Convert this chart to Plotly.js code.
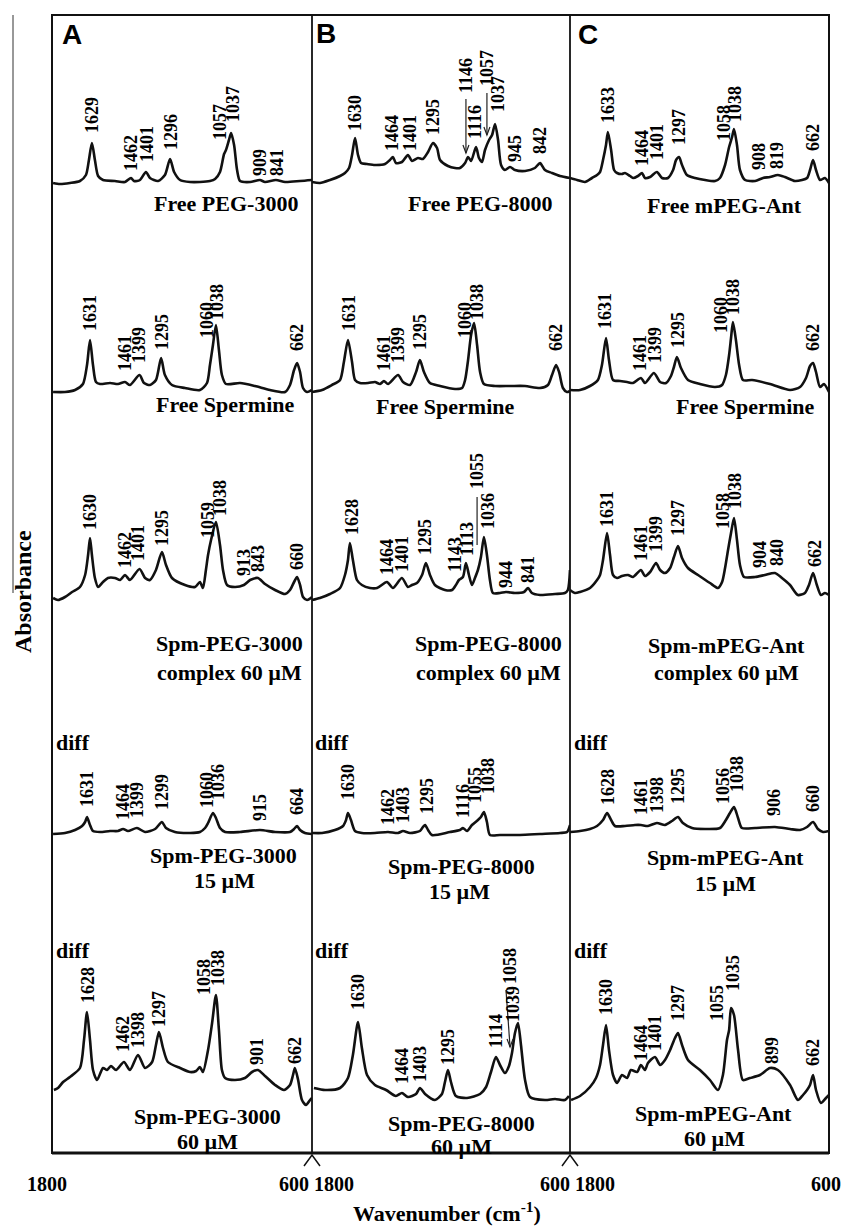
<!DOCTYPE html>
<html><head><meta charset="utf-8">
<script src="https://cdn.plot.ly/plotly-3.0.1.min.js"></script>
<style>html,body{margin:0;padding:0;background:#fff}#chart{width:841px;height:1232px}</style>
</head><body><div id="chart"></div>
<script>
// ---------- DATA: wavenumber (cm-1) and absorbance (a.u.) ----------
// Panel A
const A1_wn=[1804,1772,1725,1678,1650,1636,1622,1608,1593,1570,1514,1467,1439,1425,1397,1369,1350,1312,1280,1256,1237,1209,1162,1116,1069,1045,1022,1003,994,980,970,956,942,928,881,835,811,760,717,647,591];
const A1_abs=[0,-1,0,2,8,23,40,23,7,3,2,1,5,2,3,11,5,2,8,24,11,3,1,1,2,4,11,29,33,43,50,38,13,2,1,3,1,3,1,2,3];
const A2_wn=[1804,1748,1701,1664,1645,1631,1617,1603,1584,1537,1500,1467,1444,1399,1378,1350,1322,1298,1280,1247,1186,1116,1083,1069,1055,1041,1027,1013,994,928,858,788,717,694,675,661,647,633,614,591];
const A2_abs=[0,0,2,8,27,52,27,10,8,9,8,10,7,17,9,7,12,34,17,7,4,2,9,27,47,67,42,17,8,9,6,2,0,7,22,29,20,4,0,2];
const A3_wn=[1804,1781,1748,1715,1678,1654,1640,1631,1622,1608,1593,1570,1547,1514,1490,1467,1444,1399,1373,1350,1322,1294,1275,1247,1186,1139,1116,1102,1088,1078,1064,1041,1022,1008,989,952,910,881,844,811,764,717,694,675,661,647,633,614,591];
const A3_abs=[0,-2,1,6,11,23,43,60,43,20,11,16,20,20,18,23,18,29,20,18,28,46,33,20,13,11,16,10,28,43,58,76,53,28,13,11,13,18,20,14,8,4,8,16,21,13,1,-2,1];
const A4_wn=[1804,1748,1701,1668,1654,1645,1631,1617,1584,1537,1500,1476,1453,1411,1373,1326,1294,1275,1233,1162,1116,1092,1078,1055,1041,1022,998,928,835,764,694,675,661,647,624,591];
const A4_abs=[-1,0,3,7,11,16,8,2,1,2,2,4,2,5,1,4,11,5,1,0,1,5,10,20,15,5,1,1,3,1,1,4,7,3,0,-1];
const A5_wn=[1800,1781,1757,1725,1678,1659,1645,1631,1617,1598,1570,1551,1533,1509,1472,1444,1406,1373,1340,1322,1308,1289,1266,1209,1162,1134,1116,1102,1078,1059,1041,1027,1013,998,952,905,872,844,811,764,722,694,680,671,656,638,619,600,591];
const A5_abs=[0,2,8,13,22,50,78,50,20,10,22,20,24,20,28,20,35,22,28,45,58,42,28,22,18,19,23,18,40,67,95,60,20,12,10,12,18,20,14,5,0,5,15,22,10,-10,-15,-10,-8];
// Panel B
const B1_wn=[1800,1763,1716,1669,1646,1627,1613,1599,1585,1571,1543,1506,1459,1436,1422,1408,1380,1352,1333,1305,1282,1258,1235,1216,1202,1165,1132,1109,1085,1071,1057,1034,1020,1006,992,973,959,945,931,917,899,875,852,805,759,735,712,679,642,595];
const B1_abs=[1,0,3,7,10,15,28,45,28,20,19,18,19,23,26,20,21,28,22,25,24,31,40,35,23,17,15,15,20,26,22,36,25,21,33,43,48,59,43,18,13,16,13,12,15,20,13,10,7,5];
const B2_wn=[1800,1753,1707,1669,1651,1632,1613,1599,1576,1538,1506,1482,1464,1445,1398,1375,1342,1314,1296,1277,1249,1202,1132,1099,1085,1071,1057,1043,1029,1015,997,945,875,805,735,698,679,660,646,628,609,595];
const B2_abs=[0,2,7,12,30,52,30,12,9,9,10,8,11,8,17,10,7,20,32,20,9,6,3,4,12,32,57,69,47,20,8,6,6,6,4,7,17,27,20,4,0,1];
const B3_wn=[1800,1763,1716,1669,1646,1632,1623,1609,1590,1567,1529,1496,1450,1422,1380,1352,1333,1310,1286,1268,1249,1226,1179,1146,1128,1114,1095,1081,1067,1053,1039,1025,1011,997,983,969,955,922,894,852,810,791,773,735,665,619,605,595];
const B3_abs=[-2,0,4,10,23,38,55,38,18,13,10,10,16,10,20,11,13,15,23,35,23,13,8,8,13,18,21,35,23,13,20,28,41,61,43,18,5,5,6,5,6,10,5,3,4,5,8,28];
const B4_wn=[1800,1753,1693,1655,1641,1632,1618,1599,1567,1506,1445,1398,1375,1342,1296,1282,1272,1258,1240,1156,1109,1095,1076,1053,1025,1011,997,983,969,922,829,735,642,609,595];
const B4_abs=[0,0,3,7,13,20,13,2,0,0,1,0,2,0,2,6,8,3,-2,1,3,5,2,8,13,16,21,11,-2,-2,-2,-1,0,1,8];
const B5_wn=[1791,1739,1669,1632,1609,1585,1567,1543,1506,1454,1408,1380,1352,1314,1296,1272,1226,1193,1179,1165,1151,1128,1076,1015,987,964,941,922,899,880,866,852,838,824,805,782,712,665,619,600];
const B5_abs=[2,0,2,12,35,68,42,15,5,0,-6,-3,-7,-4,2,-4,-10,-4,8,20,8,-6,-8,-4,3,18,33,25,17,24,37,57,67,45,10,-7,-10,-9,-10,-6];
// Panel C
const C1_wn=[1802,1769,1732,1699,1675,1661,1647,1633,1624,1609,1595,1581,1558,1544,1520,1506,1483,1464,1450,1426,1394,1370,1342,1318,1304,1290,1276,1253,1215,1168,1121,1098,1074,1055,1041,1032,1018,1004,980,933,896,863,826,793,746,713,689,675,661,647,628,605,586];
const C1_abs=[5,3,1,5,8,11,23,38,51,33,13,10,9,10,7,5,7,10,5,6,11,5,5,13,23,26,18,8,5,3,2,5,18,36,46,54,38,13,3,2,5,6,8,6,2,3,5,13,23,13,3,5,0];
const C2_wn=[1802,1755,1708,1671,1652,1633,1619,1600,1567,1534,1506,1469,1450,1408,1379,1351,1328,1314,1300,1281,1248,1192,1121,1088,1070,1055,1046,1037,1023,1008,990,947,863,769,722,694,675,661,647,628,610,586];
const C2_abs=[2,2,6,12,27,54,32,12,11,10,9,14,9,19,10,9,16,25,35,24,12,8,5,7,17,37,54,70,52,27,12,12,8,2,5,14,26,29,20,5,8,0];
const C3_wn=[1802,1779,1755,1708,1675,1661,1647,1628,1614,1600,1581,1558,1530,1506,1469,1450,1426,1398,1379,1356,1332,1314,1295,1276,1248,1201,1145,1107,1088,1074,1060,1046,1032,1018,1004,985,933,887,840,807,769,732,699,680,661,643,624,605,586];
const C3_abs=[8,5,6,10,18,23,38,65,43,23,20,22,23,21,28,22,26,35,28,25,30,41,52,40,30,23,15,10,16,30,48,65,80,58,33,21,21,23,25,20,13,3,5,13,25,13,3,5,3];
const C4_wn=[1802,1755,1708,1675,1647,1628,1609,1591,1544,1497,1469,1436,1394,1356,1323,1295,1272,1229,1168,1098,1070,1051,1032,1013,995,933,840,769,722,689,661,638,614,586];
const C4_abs=[1,2,4,7,13,20,13,7,7,8,8,7,10,8,12,16,10,5,4,5,13,20,26,15,5,5,6,4,3,6,11,4,1,2];
const C5_wn=[1797,1755,1708,1680,1661,1647,1633,1619,1600,1581,1558,1534,1516,1487,1469,1450,1436,1403,1379,1356,1332,1309,1295,1276,1248,1192,1145,1107,1084,1065,1055,1046,1032,1013,990,957,910,863,826,769,732,708,689,675,661,647,624,600,586];
const C5_abs=[-10,-6,3,12,25,45,65,40,15,7,15,12,20,18,25,20,27,33,25,30,40,52,57,45,30,20,10,0,15,50,60,82,75,40,10,12,15,22,20,5,-10,-5,0,5,15,0,-13,-8,-5];

// Peak labels (text)
const A_labels=[['1629','1462','1401','1296','1057','1037','909','841'],['1631','1461','1399','1295','1060','1038','662'],['1630','1462','1401','1295','1059','1038','913','843','660'],['1631','1464','1399','1299','1060','1036','915','664'],['1628','1462','1398','1297','1058','1038','901','662']];
const B_labels=[['1630','1464','1401','1295','1146','1116','1057','1037','945','842'],['1631','1461','1399','1295','1060','1038','662'],['1628','1464','1401','1295','1143','1113','1055','1036','944','841'],['1630','1462','1403','1295','1116','1055','1038'],['1630','1464','1403','1295','1114','1058','1039']];
const C_labels=[['1633','1464','1401','1297','1058','1038','908','819','662'],['1631','1461','1399','1295','1060','1038','662'],['1631','1461','1399','1297','1058','1038','904','840','662'],['1628','1461','1398','1295','1056','1038','906','660'],['1630','1464','1401','1297','1055','1035','899','662']];
// Spectrum names
const A_names=['Free PEG-3000','Free Spermine','Spm-PEG-3000','complex 60 µM','Spm-PEG-3000','15 µM','Spm-PEG-3000','60 µM'];
const B_names=['Free PEG-8000','Free Spermine','Spm-PEG-8000','complex 60 µM','Spm-PEG-8000','15 µM','Spm-PEG-8000','60 µM'];
const C_names=['Free mPEG-Ant','Free Spermine','Spm-mPEG-Ant','complex 60 µM','Spm-mPEG-Ant','15 µM','Spm-mPEG-Ant','60 µM'];
const panelLetters=['A','B','C'];
const tickLabels=['1800','600 1800','600 1800','600'];

// ---------- LAYOUT / POSITIONS ----------
const L=52,R=829,T=15,B=1153;
const px=x=>(x-L)/(R-L), py=y=>(B-y)/(B-T);
const rowBase=[183,392,598,833,1090];           // pixel baseline of each stacked row
const A_lpos=[[[1622,115],[1439,153],[1364,144],[1251,132],[1022,122],[961,104],[835,162],[755,162]],
 [[1631,313],[1467,353],[1401,345],[1294,332],[1083,320],[1036,302],[661,338]],
 [[1631,512],[1467,550],[1406,543],[1294,528],[1078,520],[1022,498],[909,563],[844,558],[661,557]],
 [[1645,789],[1476,802],[1411,800],[1294,792],[1083,790],[1031,782],[835,807],[661,802]],
 [[1640,985],[1476,1034],[1406,1030],[1308,1009],[1097,977],[1031,968],[849,1051],[671,1050]]];
const B_lpos=[[[1599,113],[1426,133],[1342,133],[1235,117],[1081,75],[1039,122],[983,68],[931,94],[852,148],[735,141]],
 [[1627,313],[1464,353],[1398,345],[1296,332],[1085,320],[1029,302],[660,338]],
 [[1613,517],[1450,557],[1380,554],[1272,537],[1132,555],[1076,539],[1029,471],[978,511],[894,574],[791,570]],
 [[1632,782],[1445,807],[1375,805],[1263,796],[1095,801],[1039,785],[978,776]],
 [[1585,992],[1380,1066],[1296,1064],[1165,1047],[941,1031],[875,966],[861,1004]]];
const C_lpos=[[[1624,105],[1464,148],[1394,142],[1290,127],[1079,123],[1027,104],[915,156],[830,156],[661,138]],
 [[1638,311],[1473,353],[1403,345],[1295,330],[1093,315],[1037,297],[661,338]],
 [[1628,509],[1469,543],[1398,534],[1295,518],[1084,511],[1027,491],[910,554],[830,553],[652,553]],
 [[1624,787],[1469,797],[1394,795],[1295,786],[1084,786],[1018,774],[844,803],[661,799]],
 [[1633,997],[1469,1043],[1403,1033],[1295,1003],[1112,1003],[1037,973],[854,1050],[661,1053]]];
const A_npos=[[226,203],[225,404],[229,643],[229,673],[223,855],[224,880],[207,1116],[207,1141]];
const B_npos=[[480,204],[445,406],[488,643],[488,673],[461,866],[460,891],[461,1123],[461,1146]];
const C_npos=[[724,206],[745,407],[726,646],[726,673],[725,858],[725,883],[713,1113],[714,1138]];

const panels=[
 {xa:'x',ya:'y',spec:[[A1_wn,A1_abs],[A2_wn,A2_abs],[A3_wn,A3_abs],[A4_wn,A4_abs],[A5_wn,A5_abs]],lab:A_labels,lpos:A_lpos,names:A_names,npos:A_npos,letter:[72,35],diffX:54},
 {xa:'x2',ya:'y2',spec:[[B1_wn,B1_abs],[B2_wn,B2_abs],[B3_wn,B3_abs],[B4_wn,B4_abs],[B5_wn,B5_abs]],lab:B_labels,lpos:B_lpos,names:B_names,npos:B_npos,letter:[326,33],diffX:313},
 {xa:'x3',ya:'y3',spec:[[C1_wn,C1_abs],[C2_wn,C2_abs],[C3_wn,C3_abs],[C4_wn,C4_abs],[C5_wn,C5_abs]],lab:C_labels,lpos:C_lpos,names:C_names,npos:C_npos,letter:[588,34],diffX:572}
];

const serif='Liberation Serif, Times New Roman, serif';
const traces=[], ann=[];
panels.forEach((p,pi)=>{
  p.spec.forEach((s,ri)=>{
    const off=B-rowBase[ri];
    traces.push({x:s[0],y:s[1].map(v=>v+off),xaxis:p.xa,yaxis:p.ya,type:'scatter',mode:'lines',
      line:{color:'#111',width:2.6,shape:'spline',smoothing:0.7},hoverinfo:'skip'});
    p.lab[ri].forEach((t,k)=>{
      const pos=p.lpos[ri][k];
      ann.push({xref:p.xa,yref:p.ya,x:pos[0],y:B-pos[1],text:'<b>'+t+'</b>',textangle:-90,showarrow:false,
        xanchor:'center',yanchor:'middle',font:{family:serif,size:18,color:'#000'}});
    });
  });
  p.names.forEach((t,k)=>{
    ann.push({xref:'paper',yref:'paper',x:px(p.npos[k][0]),y:py(p.npos[k][1]),text:'<b>'+t+'</b>',showarrow:false,
      xanchor:'center',yanchor:'middle',font:{family:serif,size:22,color:'#000'}});
  });
  ann.push({xref:'paper',yref:'paper',x:px(p.letter[0]),y:py(p.letter[1]),text:'<b>'+panelLetters[pi]+'</b>',showarrow:false,
    xanchor:'center',yanchor:'middle',font:{family:'Liberation Sans, Arial, sans-serif',size:28,color:'#000'}});
  [742,950].forEach(yy=>ann.push({xref:'paper',yref:'paper',x:px(p.diffX),y:py(yy),text:'<b>diff</b>',showarrow:false,
    xanchor:'left',yanchor:'middle',font:{family:serif,size:22,color:'#000'}}));
});
// tick labels and axis titles
const tickPos=[[47,1184],[316,1184],[577,1184],[826,1184]];
tickLabels.forEach((t,i)=>ann.push({xref:'paper',yref:'paper',x:px(tickPos[i][0]),y:py(tickPos[i][1]),text:'<b>'+t+'</b>',
  showarrow:false,xanchor:'center',yanchor:'middle',font:{family:serif,size:20,color:'#000'}}));
ann.push({xref:'paper',yref:'paper',x:px(447),y:py(1212),text:'<b>Wavenumber (cm<sup>-1</sup>)</b>',showarrow:false,
  xanchor:'center',yanchor:'middle',font:{family:serif,size:22,color:'#000'}});
ann.push({xref:'paper',yref:'paper',x:px(23),y:py(592),text:'<b>Absorbance</b>',textangle:-90,showarrow:false,
  xanchor:'center',yanchor:'middle',font:{family:serif,size:24,color:'#000'}});

const d1=px(312), d2=px(570);
const shapes=[
 {type:'rect',xref:'paper',yref:'paper',x0:0,x1:1,y0:0,y1:1,line:{color:'#111',width:2}},
 {type:'line',xref:'paper',yref:'paper',x0:d1,x1:d1,y0:0,y1:1,line:{color:'#111',width:1.8}},
 {type:'line',xref:'paper',yref:'paper',x0:d2,x1:d2,y0:0,y1:1,line:{color:'#111',width:1.8}},
 {type:'line',xref:'paper',yref:'paper',x0:0,x1:1,y0:0,y1:0,line:{color:'#111',width:2.8}},
 {type:'line',xref:'paper',yref:'paper',x0:px(13),x1:px(13),y0:py(15),y1:py(593),line:{color:'#333',width:1}}
];
[312,570].forEach(xx=>shapes.push({type:'path',xref:'paper',yref:'paper',
  path:`M ${px(xx-8)} ${py(1166)} L ${px(xx)} ${py(1155)} L ${px(xx+8)} ${py(1166)}`,line:{color:'#111',width:1.5}}));
// pointer arrows in panel B: [x tail (cm-1), y tail px, x head (cm-1), y head px, with head?]
const arrowDefs=[[1081,99,1081,153,1],[983,93,983,135,1],[1029,497,1029,545,0],[894,990,875,1047,1]];
arrowDefs.forEach(a=>{
  shapes.push({type:'line',xref:'x2',yref:'y2',x0:a[0],y0:B-a[1],x1:a[2],y1:B-a[3],line:{color:'#222',width:1.2}});
  if(a[4]) shapes.push({type:'path',xref:'x2',yref:'y2',
    path:`M ${a[2]+14} ${B-a[3]+8} L ${a[2]} ${B-a[3]} L ${a[2]-14} ${B-a[3]+8}`,line:{color:'#222',width:1.2}});
});

const hidden={showgrid:false,zeroline:false,showline:false,showticklabels:false,ticks:''};
const layout={
  width:841,height:1232,margin:{l:L,r:841-R,t:T,b:1232-B},showlegend:false,
  paper_bgcolor:'#fff',plot_bgcolor:'#fff',
  xaxis:Object.assign({domain:[0,px(312)],range:[1809,591],anchor:'y'},hidden),
  xaxis2:Object.assign({domain:[px(312),px(570)],range:[1800,595],anchor:'y2'},hidden),
  xaxis3:Object.assign({domain:[px(570),1],range:[1802,586],anchor:'y3'},hidden),
  yaxis:Object.assign({domain:[0,1],range:[0,B-T],anchor:'x'},hidden),
  yaxis2:Object.assign({domain:[0,1],range:[0,B-T],anchor:'x2'},hidden),
  yaxis3:Object.assign({domain:[0,1],range:[0,B-T],anchor:'x3'},hidden),
  annotations:ann,shapes:shapes
};
Plotly.newPlot('chart',traces,layout,{staticPlot:true,displayModeBar:false});
</script></body></html>
